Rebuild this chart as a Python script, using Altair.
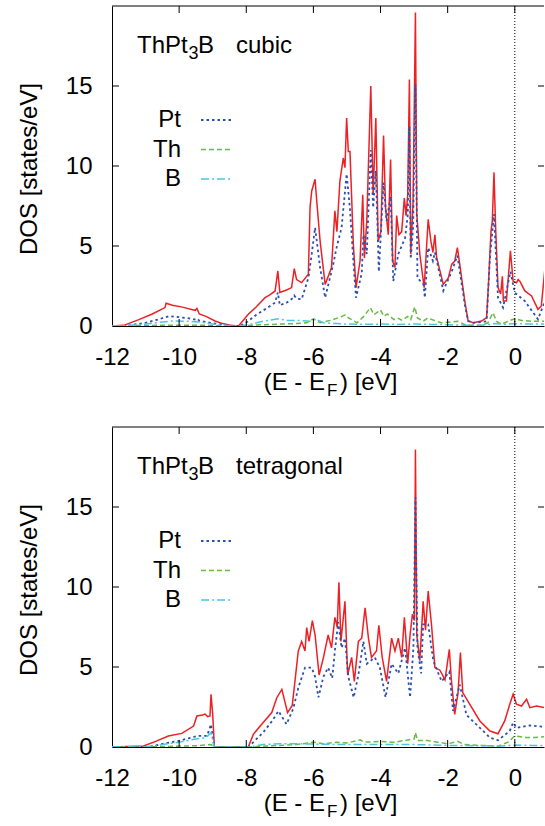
import altair as alt
import pandas as pd

# ---------------- data ----------------
# Panel 1: cubic
E1_tot = [-12.0, -11.65, -11.2, -10.8, -10.42, -10.39, -10.2, -9.9, -9.6, -9.52, -9.47, -9.4, -9.2,
          -8.93, -8.7, -8.48, -8.23, -7.94, -7.7, -7.44, -7.3, -7.14, -7.06, -7.0, -6.8, -6.65, -6.57,
          -6.5, -6.35, -6.15, -6.1, -6.05, -5.95, -5.9, -5.8, -5.65, -5.46, -5.36, -5.3, -5.21, -5.11,
          -5.06, -5.01, -4.96, -4.91, -4.81, -4.73, -4.61, -4.53, -4.48, -4.41, -4.29, -4.22, -4.14,
          -4.07, -3.99, -3.91, -3.85, -3.77, -3.70, -3.64, -3.57, -3.52, -3.45, -3.37, -3.29, -3.24,
          -3.19, -3.14, -3.10, -3.03, -2.96, -2.92, -2.83, -2.70, -2.58, -2.5, -2.44, -2.38, -2.33,
          -2.13, -1.98, -1.88, -1.79, -1.71, -1.64, -1.49, -1.39, -1.24, -0.99, -0.84, -0.79, -0.71,
          -0.67, -0.62, -0.57, -0.50, -0.42, -0.37, -0.34, -0.25, -0.13, -0.05, 0.05, 0.10, 0.15,
          0.2, 0.30, 0.5, 0.69, 0.79, 0.9]
D1_tot = [0.0, 0.04, 0.4, 0.75, 1.15, 1.42, 1.3, 1.18, 1.02, 0.98, 1.1, 0.75, 0.6,
          0.31, 0.15, 0.05, 0.0, 0.73, 1.2, 1.77, 1.95, 2.19, 3.44, 2.1, 2.25, 2.4, 3.58,
          2.9, 2.71, 3.23, 7.4, 8.44, 9.17, 7.8, 5.3, 2.6, 3.65, 7.2, 5.9, 9.06, 10.5,
          9.9, 13.0, 10.9, 10.9, 5.1, 2.4, 4.06, 8.2, 4.25, 6.56, 15.0, 8.2, 13.0,
          5.3, 5.9, 11.9, 7.4, 5.7, 10.4, 4.06, 3.65, 6.9, 5.7, 5.9, 8.0, 6.9,
          8.2, 15.4, 4.5, 7.8, 19.6, 7.0, 4.5, 2.4, 6.67, 5.3, 4.6, 5.7, 4.3,
          2.6, 3.0, 3.85, 4.06, 4.9, 3.85, 1.56, 0.31, 0.2, 0.31, 0.52, 2.4, 5.9,
          6.56, 9.6, 6.1, 2.4, 2.0, 3.1, 1.56, 1.56, 4.7, 2.8, 2.7, 2.9, 2.8,
          2.6, 2.19, 1.88, 1.04, 1.25, 3.65]

E1_pt = [-12.0, -11.6, -11.0, -10.6, -10.3, -10.0, -9.7, -9.5, -9.45, -9.4, -9.0, -8.6, -8.4, -8.2,
         -8.04, -7.7, -7.4, -7.14, -7.06, -7.0, -6.8, -6.6, -6.57, -6.5, -6.35, -6.15, -6.05, -5.95,
         -5.8, -5.65, -5.41, -5.31, -5.16, -5.01, -4.91, -4.81, -4.73, -4.56, -4.51, -4.41, -4.29,
         -4.22, -4.14, -4.05, -3.91, -3.82, -3.70, -3.62, -3.47, -3.27, -3.19, -3.14, -3.10, -3.03,
         -2.96, -2.90, -2.72, -2.68, -2.58, -2.44, -2.38, -2.13, -1.88, -1.71, -1.49, -1.39, -1.24,
         -0.99, -0.84, -0.74, -0.62, -0.5, -0.35, -0.13, 0.0, 0.3, 0.69, 0.9]
D1_pt = [0.0, 0.0, 0.2, 0.42, 0.62, 0.55, 0.48, 0.4, 0.45, 0.33, 0.18, 0.05, 0.0, 0.0,
         0.15, 0.7, 1.1, 1.46, 2.1, 1.3, 1.45, 1.77, 1.9, 1.7, 1.67, 3.0, 4.5, 6.15,
         3.65, 1.77, 3.85, 4.9, 6.15, 9.5, 7.3, 4.06, 1.77, 3.3, 5.7, 4.5, 11.0,
         7.4, 9.7, 3.4, 8.96, 6.56, 8.1, 2.8, 4.5, 5.5, 6.9, 12.5, 4.2, 6.15,
         15.1, 3.0, 2.6, 1.77, 4.9, 4.06, 4.6, 2.2, 3.4, 4.4, 1.35, 0.31, 0.2,
         0.25, 0.3, 4.3, 7.0, 1.77, 1.15, 3.4, 2.08, 1.56, 0.42, 1.56]

E1_th = [-12.0, -11.5, -10.3, -9.4, -8.5, -8.2, -7.8, -7.0, -6.5, -6.2, -6.0, -5.8, -5.5, -5.2, -5.05,
         -4.95, -4.7, -4.5, -4.3, -4.2, -4.1, -4.0, -3.9, -3.8, -3.6, -3.5, -3.35, -3.2, -3.1, -2.98,
         -2.9, -2.73, -2.6, -2.4, -2.2, -1.9, -1.7, -1.5, -1.3, -1.0, -0.8, -0.65, -0.55, -0.4, -0.2,
         0.0, 0.2, 0.5, 0.9]
D1_th = [0.0, 0.02, 0.05, 0.05, 0.0, 0.0, 0.05, 0.12, 0.15, 0.2, 0.45, 0.2, 0.35, 0.55, 0.7,
         0.5, 0.2, 0.6, 1.15, 0.7, 0.85, 1.0, 0.6, 0.75, 0.4, 0.5, 0.35, 0.6, 0.4, 1.2,
         0.5, 0.3, 0.5, 0.35, 0.2, 0.25, 0.3, 0.1, 0.05, 0.05, 0.2, 0.83, 0.3, 0.1, 0.3,
         0.45, 0.35, 0.3, 0.3]

E1_b = [-12.0, -11.6, -11.0, -10.5, -10.2, -9.8, -9.4, -9.0, -8.5, -8.2, -7.9, -7.5, -7.05, -6.8,
        -6.5, -6.1, -5.95, -5.7, -5.3, -5.0, -4.5, -4.0, -3.5, -3.0, -2.5, -2.0, -1.5, -1.0, -0.6,
        -0.3, 0.0, 0.5, 0.9]
D1_b = [0.0, 0.02, 0.12, 0.25, 0.32, 0.3, 0.25, 0.12, 0.02, 0.0, 0.1, 0.3, 0.45, 0.35,
        0.35, 0.3, 0.45, 0.2, 0.15, 0.12, 0.1, 0.12, 0.1, 0.12, 0.1, 0.08, 0.05, 0.05, 0.15,
        0.1, 0.15, 0.12, 0.12]

# Panel 2: tetragonal
E2_tot = [-12.0, -11.06, -10.7, -10.32, -9.92, -9.57, -9.47, -9.3, -9.23, -9.15, -9.08, -9.05, -9.0,
          -8.95, -7.94, -7.79, -7.54, -7.24, -7.09, -6.94, -6.77, -6.63, -6.55, -6.45, -6.35, -6.25,
          -6.2, -6.13, -6.03, -5.95, -5.83, -5.7, -5.56, -5.46, -5.36, -5.29, -5.24, -5.18, -5.06,
          -4.98, -4.86, -4.78, -4.66, -4.56, -4.46, -4.36, -4.27, -4.12, -4.05, -3.95, -3.82, -3.67,
          -3.57, -3.47, -3.37, -3.29, -3.19, -3.12, -3.05, -2.99, -2.96, -2.92, -2.83, -2.73, -2.66,
          -2.58, -2.48, -2.38, -2.23, -2.08, -1.95, -1.89, -1.79, -1.69, -1.62, -1.55, -1.34, -1.04,
          -0.74, -0.5, -0.30, -0.15, -0.05, 0.05, 0.2, 0.35, 0.45, 0.65, 0.9]
D2_tot = [0.0, 0.06, 0.35, 0.69, 0.85, 1.31, 1.94, 2.0, 2.06, 1.9, 1.94, 3.29, 2.06,
          0.0, 0.0, 0.79, 1.42, 2.15, 3.08, 3.6, 2.15, 2.6, 4.1, 6.0, 6.6, 6.0,
          7.46, 6.6, 7.9, 7.0, 4.5, 5.6, 7.0, 6.2, 8.1, 7.5, 10.3, 6.6, 9.1,
          4.5, 5.6, 4.1, 6.6, 6.8, 8.7, 6.8, 5.6, 6.0, 7.6, 5.6, 4.1, 6.8,
          6.0, 6.8, 5.6, 8.1, 5.2, 7.0, 8.3, 7.9, 18.6, 7.0, 5.4, 9.1, 7.3,
          9.75, 7.6, 4.96, 4.8, 4.2, 6.1, 4.2, 2.04, 3.4, 5.9, 3.4, 2.67, 1.63,
          1.0, 0.83, 1.63, 2.67, 3.3, 2.67, 2.56, 2.98, 2.46, 2.56, 2.46]

E2_pt = [-12.0, -10.9, -10.5, -10.02, -9.7, -9.47, -9.17, -9.05, -9.0, -8.95, -7.94, -7.84, -7.5,
         -7.24, -7.04, -6.8, -6.6, -6.45, -6.25, -6.05, -5.95, -5.85, -5.7, -5.56, -5.44, -5.36,
         -5.26, -5.16, -5.06, -4.96, -4.8, -4.66, -4.51, -4.41, -4.17, -4.02, -3.85, -3.67, -3.47,
         -3.27, -3.12, -3.02, -2.96, -2.9, -2.79, -2.73, -2.58, -2.43, -2.18, -1.95, -1.84, -1.64,
         -1.44, -1.04, -0.74, -0.5, -0.15, -0.05, 0.05, 0.45, 0.9]
D2_pt = [0.0, 0.0, 0.2, 0.38, 0.55, 0.69, 0.69, 1.42, 0.6, 0.0, 0.0, 0.2, 0.9,
         1.6, 2.25, 1.42, 2.4, 3.7, 4.96, 4.96, 4.4, 3.1, 4.4, 4.96, 4.3, 6.0,
         7.8, 6.2, 6.8, 4.4, 3.1, 4.5, 6.6, 5.2, 5.6, 4.96, 3.1, 5.2, 4.6,
         6.2, 3.1, 6.2, 15.6, 6.2, 4.6, 7.67, 7.67, 5.4, 4.1, 4.7, 2.25, 3.9,
         2.0, 1.2, 0.58, 0.42, 1.0, 1.52, 1.2, 1.35, 1.25]

E2_th = [-12.0, -11.0, -10.5, -9.5, -9.05, -8.95, -7.9, -7.5, -7.0, -6.5, -6.0, -5.7, -5.3, -5.0,
         -4.6, -4.5, -4.0, -3.6, -3.3, -3.0, -2.96, -2.9, -2.6, -2.3, -2.0, -1.7, -1.5, -1.0, -0.5,
         -0.2, 0.0, 0.3, 0.6, 0.9]
D2_th = [0.0, 0.0, 0.03, 0.08, 0.15, 0.0, 0.0, 0.05, 0.1, 0.15, 0.3, 0.2, 0.3, 0.25,
         0.45, 0.3, 0.35, 0.3, 0.4, 0.5, 0.9, 0.4, 0.4, 0.3, 0.2, 0.35, 0.15, 0.1, 0.05,
         0.3, 0.7, 0.6, 0.6, 0.65]

E2_b = [-12.0, -11.0, -10.5, -10.0, -9.5, -9.2, -9.05, -8.95, -7.9, -7.5, -7.0, -6.5, -6.0, -5.0,
        -4.0, -3.0, -2.0, -1.0, -0.5, 0.0, 0.5, 0.9]
D2_b = [0.0, 0.0, 0.15, 0.3, 0.5, 0.58, 0.9, 0.0, 0.0, 0.15, 0.2, 0.2, 0.18, 0.15,
        0.15, 0.15, 0.1, 0.08, 0.05, 0.12, 0.1, 0.1]

PANEL_NAMES = ["cubic", "tetragonal"]
LEGEND_NAMES = ["Pt", "Th", "B"]
X_TICKS = [-12, -10, -8, -6, -4, -2, 0]
Y_TICKS = [0, 5, 10, 15]

# ---------------- styling ----------------
FONT = "Liberation Sans"
FS = 24
W, H = 432, 320
XDOM = [-12, 0.87]
YDOM = [0, 20]
STYLE = {
    "tot": dict(color="#ee2024", strokeWidth=1.5),
    "Pt": dict(color="#2b4fae", strokeWidth=1.8, strokeDash=[2.5, 3]),
    "Th": dict(color="#66bb44", strokeWidth=1.5, strokeDash=[5, 3]),
    "B": dict(color="#48c6e6", strokeWidth=1.5, strokeDash=[8, 3, 2, 3]),
}


def xenc(field):
    return alt.X(f"{field}:Q",
                 scale=alt.Scale(domain=XDOM, nice=False, zero=False),
                 axis=alt.Axis(values=X_TICKS, ticks=False, grid=False, domain=True,
                               domainColor="black", domainWidth=1, labelFont=FONT,
                               labelFontSize=FS, labelColor="black", labelPadding=19,
                               labelFlush=False, labelOverlap=False,
                               labelExpr="'' + datum.value", title=None))


def yenc(field):
    return alt.Y(f"{field}:Q",
                 scale=alt.Scale(domain=YDOM, nice=False, zero=True),
                 axis=alt.Axis(values=Y_TICKS, ticks=False, grid=False, domain=True,
                               domainColor="black", domainWidth=1, labelFont=FONT,
                               labelFontSize=FS, labelColor="black", labelPadding=20,
                               labelFlush=False, labelOverlap=False, title=None))


def txt(text, x, y, size=FS, align="left", baseline="alphabetic", angle=0):
    return alt.Chart(pd.DataFrame({"t": [text]})).mark_text(
        font=FONT, fontSize=size, color="black", align=align, baseline=baseline, angle=angle
    ).encode(text="t:N", x=alt.value(x), y=alt.value(y))


def panel(series, name):
    layers = []
    for key, (E, D) in series.items():
        df = pd.DataFrame({"E": E, "dos": D})
        layers.append(alt.Chart(df).mark_line(clip=True, **STYLE[key])
                      .encode(x=xenc("E"), y=yenc("dos")))
    # Fermi level
    layers.append(alt.Chart(pd.DataFrame({"ef": [0]})).mark_rule(
        color="black", strokeWidth=1, strokeDash=[1, 2]).encode(x=xenc("ef")))
    # top border
    layers.append(alt.Chart(pd.DataFrame({"a": [0]})).mark_rule(color="black", strokeWidth=1)
                  .encode(x=alt.value(0), x2=alt.value(W), y=alt.value(0)))
    # inward ticks
    xt = pd.DataFrame({"xt": X_TICKS[1:]})
    yt = pd.DataFrame({"yt": Y_TICKS[1:]})
    layers.append(alt.Chart(xt).mark_rule(color="black").encode(
        x=xenc("xt"), y=alt.value(H), y2=alt.value(H - 7)))
    layers.append(alt.Chart(xt).mark_rule(color="black").encode(
        x=xenc("xt"), y=alt.value(0), y2=alt.value(7)))
    layers.append(alt.Chart(yt).mark_rule(color="black").encode(
        y=yenc("yt"), x=alt.value(0), x2=alt.value(7)))
    layers.append(alt.Chart(yt).mark_rule(color="black").encode(
        y=yenc("yt"), x=alt.value(W - 6), x2=alt.value(W)))
    # legend
    for i, lname in enumerate(LEGEND_NAMES):
        yy = 114 + 29.5 * i
        layers.append(txt(lname, 69, yy, align="right", baseline="middle"))
        layers.append(alt.Chart(pd.DataFrame({"a": [0]})).mark_rule(**STYLE[lname])
                      .encode(x=alt.value(89), x2=alt.value(121), y=alt.value(yy)))
    # panel title  ThPt3B  <name>
    layers.append(txt("ThPt", 25, 47))
    layers.append(txt("3", 76.5, 53, size=18))
    layers.append(txt("B", 86, 47))
    layers.append(txt(name, 124, 47))
    # x title  (E - E_F) [eV]
    layers.append(txt("(E - E", 213, 384, align="right"))
    layers.append(txt("F", 215, 390, size=17))
    layers.append(txt(") [eV]", 228, 384))
    # y title
    layers.append(txt("DOS [states/eV]", -82, 163, align="center", baseline="middle", angle=270))
    return alt.layer(*layers).properties(width=W, height=H)


p1 = panel({"tot": (E1_tot, D1_tot), "Pt": (E1_pt, D1_pt), "Th": (E1_th, D1_th),
            "B": (E1_b, D1_b)}, PANEL_NAMES[0])
p2 = panel({"tot": (E2_tot, D2_tot), "Pt": (E2_pt, D2_pt), "Th": (E2_th, D2_th),
            "B": (E2_b, D2_b)}, PANEL_NAMES[1])

chart = alt.vconcat(p1, p2, spacing=101, bounds="flush").properties(
    padding={"left": 18, "top": 5, "right": 0, "bottom": 0},
    background="white",
).configure_view(stroke=None)

chart.save("out.html", embed_options={"renderer": "svg", "actions": False})
